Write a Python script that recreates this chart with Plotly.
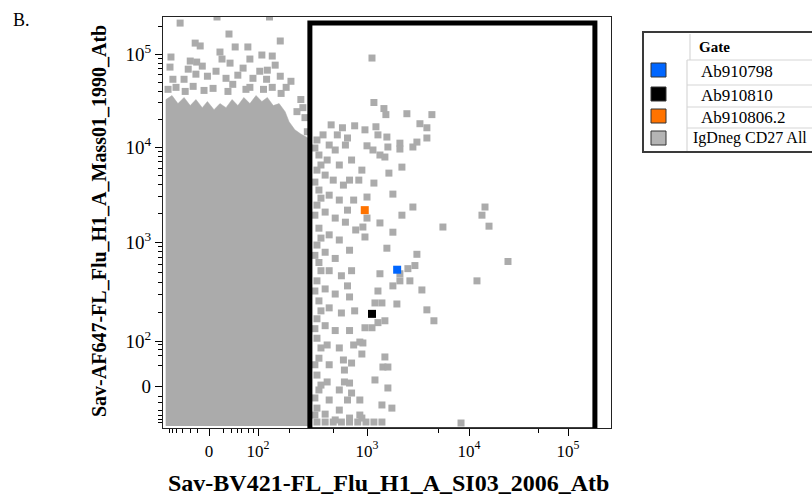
import numpy as np
import plotly.graph_objects as go

# ---------------- axis scale (biexponential-like) anchors ----------------
X_ANCHOR_V = [-1000, -150, 0, 100, 1000, 1e4, 1e5, 1e6]
X_ANCHOR_D = [-30.6, 0, 46, 95, 204, 306, 405, 504]
Y_ANCHOR_V = [-1000, -150, 0, 100, 1000, 1e4, 1e5, 1e6]
Y_ANCHOR_D = [-27.9, 0, 42, 87, 186, 281, 374, 467]

# ---------------- tick labels ----------------
major_vals = [0, 100, 1000, 10000, 100000]
major_text = ["0", "10<sup>2</sup>", "10<sup>3</sup>", "10<sup>4</sup>", "10<sup>5</sup>"]
x_minor_vals = [-100, -80, -60, -40, -20, -10, 10, 20, 30, 40, 60, 80, 200, 500, 5000, 50000]
y_minor_vals = ([-100, -80, -60, -40, -20, -10, 20, 40, 60, 80]
                + [m * 100 for m in range(2, 10)]
                + [m * 1000 for m in range(2, 10)]
                + [m * 10000 for m in range(2, 10)] + [200000])

# ---------------- data ----------------
# dense core of "IgDneg CD27 All" (outline of the solid density region)
core_x = [-124, -124, -83, -55, -35, -21, -12, -5, -1, 2.8, 7.1, 13, 21, 31, 45, 64, 90,
          109, 123, 140, 159, 181, 197, 223, 253, 294, 294]
core_y = [-130, 32400, 35800, 29300, 34100, 27900, 32400, 26500, 30800, 25200, 29300, 26500,
          32400, 27900, 34100, 29300, 35800, 30800, 34100, 27900, 29300, 24000, 18700, 15300,
          13800, 12500, -130]

# sparse events of "IgDneg CD27 All" above the core
fringe_x = [-63, -16, 2.2, 22, 64, 137, 185,
            -78, -1, 13, 76, 121, 163,
            -108, -32, -3.5, 15.3, 51, 113, 166, 233,
            -35, -12, 4.1, 31, 104, 146, 205, -95, -25, 18, 64, 109, 57,
            -47, 4.8, 129, 16.6, 163, -13, -7, -89, 7.1, 8.9, 26, 137, -21, -11, -5, 43, 123, 253,
            276, 264, 290]
fringe_y = [43800, 44900, 42700, 47200, 43800, 43800, 43800,
            53500, 57700, 54800, 54800, 53500, 57700,
            41700, 39600, 40600, 39600, 41700, 41700, 37700, 24000,
            53500, 60700, 65300, 59200, 65300, 75900, 50900, 72300, 68700, 79800, 88300, 97500, 119000,
            215000, 250000, 250000, 164000, 138000, 131000, 122000, 92800, 105000, 88300, 119000, 95100,
            84000, 81900, 74100, 70500, 67000, 32400,
            20700, 26500, 14600]

# "IgDneg CD27 All" events inside the gate
gate_x = [1120, 1170, 1468, 1535, 2467, 4335, 3311, 3873, 3873, 3093, 2825, 2107, 2107, 2205, 1643,
          1798, 1170, 845, 900, 669, 603, 776, 959, 1225, 1282, 1570, 1606, 1000, 1145, 1341, 1501,
          1000, 2825, 14510, 13520, 15930, 5559, 24770, 12040, 3461, 3873, 4538, 8355, 3093, 2957,
          2523, 2107, 2640, 2107, 1798, 1341, 1570, 959, 919, 1341, 1798, 2205, 1000, 1282, 1968,
          1501, 1282, 1120, 959, 1403, 1198, 863, 919, 900, 1501, 1435, 1606, 728, 628, 1198, 628,
          698, 1606, 728, 863, 1403, 1758, 863,
          355, 421, 498, 590, 698, 827, 979, 1170, 1403, 698, 900,
          355, 403, 458, 519, 370, 439, 565, 355, 421, 498, 615, 370, 458, 565, 355, 421, 519, 641,
          370, 458, 565, 355, 421, 519, 698, 370, 458, 590, 355, 421, 519, 698, 370, 458, 590, 355,
          421, 519, 355, 439, 565, 370, 458, 355, 439, 370, 458, 355, 421, 565,
          340, 386, 340, 386, 340, 386, 340, 386, 340, 386, 340, 386, 340, 386, 340, 340,
          477, 542, 641, 728, 698, 760, 669, 793, 728, 669, 776, 698, 760, 615, 565, 669, 519]
gate_y = [90500, 30100, 25900, 22300, 22800, 22300, 17800, 16100, 12500, 11300, 10000, 11000, 9520,
          6150, 5320, 3200, 4180, 4490, 5720, 12500, 16100, 16900, 15300, 16500, 13500, 12800, 10000,
          10300, 9300, 8240, 7850, 2980, 2340, 2340, 1920, 1470, 1440, 643, 413, 335, 211, 163, -105,
          757, 586, 546, 486, 413, 413, 368, 486, 869, 1130, 1440, 1590, 1270, 1920, 1790, 327, 242,
          163, 156, 138, 138, 248, 248, 94, 89, 45, 37, 17.5, 17.5, 24, 13.4, 3.8, 2.4, 1.7, -1.4,
          -5.9, -15.2, -25, -33, -58,
          -98, -98, -98, -98, -98, -98, -98, -98, -98, -73, -73,
          11900, 13500, 10500, 9300, 8240, 7300, 6470, 5720, 5070, 4490, 3980, 3530, 3120, 2770, 2450,
          2070, 1790, 1620, 1400, 1190, 1050, 933, 793, 689, 830, 628, 521, 464, 413, 343, 305, 285,
          260, 221, 196, 171, 145, 129, 107, 79, 66, 34, 21, 7.9, 2.4, -3.0, -15.2, -33, -54, -39,
          9760, 6470, 4280, 2900, 1920, 1100, 739, 521, 327, 206, 135, 66, 21, 0.5, -12, -58,
          17300, 13500, 10500, 7300, 4490, 2770, 2170, 1340, 521, 368, 206, 129, 79, 30, -3.0, -15.2, -84]

# gated antibodies
ab_names = ["Ab910798", "Ab910810", "Ab910806.2"]
ab_x = [1980, 1120, 955]
ab_y = [533, 192, 2170]
ab_colors = ["#0066FF", "#000000", "#FF7300"]

# gate rectangle (data units)
gate_rect_x = [306, 187000]
gate_rect_y = [-170, 215000]

legend_title = "Gate"
legend_pop = "IgDneg CD27 All"
GRAY = "#ABABAB"
SERIF = "Liberation Serif"


def _u(v):
    v = np.asarray(v, dtype=float)
    return np.sign(v) * np.log10(1 + np.abs(v) / 10.0)


def bx(v):
    return np.interp(_u(v), _u(X_ANCHOR_V), X_ANCHOR_D)


def by(v):
    return np.interp(_u(v), _u(Y_ANCHOR_V), Y_ANCHOR_D)


W, H = 812, 497
ML, MR, MT, MB = 163, 201, 17, 69
PW, PH = W - ML - MR, H - MT - MB


def px(x):
    return (x - ML) / PW


def py(y):
    return (H - MB - y) / PH


fig = go.Figure()

fig.add_trace(go.Scatter(x=bx(core_x), y=by(core_y), mode="lines", fill="toself",
                         fillcolor=GRAY, line=dict(color=GRAY, width=0.5),
                         hoverinfo="skip", showlegend=False))
fig.add_trace(go.Scatter(x=bx(fringe_x + gate_x), y=by(fringe_y + gate_y), mode="markers",
                         marker=dict(symbol="square", size=7, color=GRAY, line=dict(width=0)),
                         showlegend=False))
for name, xv, yv, c in zip(ab_names, ab_x, ab_y, ab_colors):
    fig.add_trace(go.Scatter(x=bx([xv]), y=by([yv]), mode="markers", name=name,
                             marker=dict(symbol="square", size=8, color=c, line=dict(width=0)),
                             showlegend=False))

# gate
fig.add_shape(type="rect", xref="x", yref="y",
              x0=float(bx(gate_rect_x[0])), x1=float(bx(gate_rect_x[1])),
              y0=float(by(gate_rect_y[0])), y1=float(by(gate_rect_y[1])),
              line=dict(color="black", width=5), fillcolor="rgba(0,0,0,0)", layer="above")

axis_common = dict(showgrid=False, zeroline=False, showline=True, linecolor="#222",
                   linewidth=1.2, mirror=True, ticks="outside", ticklen=7, tickwidth=1,
                   tickcolor="black", tickmode="array")

fig.update_xaxes(range=[0, PW], tickvals=bx(major_vals), ticktext=major_text,
                 tickfont=dict(family=SERIF, size=17, color="black"),
                 minor=dict(tickmode="array", tickvals=bx(x_minor_vals), ticks="outside",
                            ticklen=4, tickwidth=1, tickcolor="black"),
                 **axis_common)
fig.update_yaxes(range=[0, PH], tickvals=by(major_vals), ticktext=major_text,
                 tickfont=dict(family=SERIF, size=19, color="black"),
                 minor=dict(tickmode="array", tickvals=by(y_minor_vals), ticks="outside",
                            ticklen=4, tickwidth=1, tickcolor="black"),
                 **axis_common)

ann = []
ann.append(dict(text="<b>Sav-BV421-FL_Flu_H1_A_SI03_2006_Atb</b>", xref="paper", yref="paper",
                x=px(388), y=py(483), showarrow=False, xanchor="center", yanchor="middle",
                font=dict(family=SERIF, size=24, color="black")))
ann.append(dict(text="<b>Sav-AF647-FL_Flu_H1_A_Mass01_1990_Atb</b>", xref="paper", yref="paper",
                x=px(99), y=py(221), showarrow=False, xanchor="center", yanchor="middle",
                textangle=-90, font=dict(family=SERIF, size=20, color="black")))
ann.append(dict(text="B.", xref="paper", yref="paper", x=px(11), y=py(20), showarrow=False,
                xanchor="left", yanchor="middle", font=dict(family=SERIF, size=18, color="black")))

# legend table
shapes = []
shapes.append(dict(type="rect", xref="paper", yref="paper", x0=px(643), x1=px(818),
                   y0=py(152), y1=py(32), line=dict(color="#3a3a3a", width=2), fillcolor="white"))
shapes.append(dict(type="line", xref="paper", yref="paper", x0=px(690), x1=px(690),
                   y0=py(34), y1=py(60), line=dict(color="#cfcfcf", width=1)))
shapes.append(dict(type="line", xref="paper", yref="paper", x0=px(687), x1=px(687),
                   y0=py(60), y1=py(151), line=dict(color="#cfcfcf", width=1)))
for ry in [60, 85, 107, 128]:
    shapes.append(dict(type="line", xref="paper", yref="paper", x0=px(687), x1=px(812),
                       y0=py(ry), y1=py(ry), line=dict(color="#d5d5d5", width=1)))
sw_rows = [(63, 77), (87, 101), (109, 123), (131, 145)]
sw_cols = ab_colors + ["#B4B4B4"]
for (t, b), c in zip(sw_rows, sw_cols):
    shapes.append(dict(type="rect", xref="paper", yref="paper", x0=px(651), x1=px(666),
                       y0=py(b), y1=py(t), line=dict(color="#333", width=1), fillcolor=c))

ann.append(dict(text="<b>" + legend_title + "</b>", xref="paper", yref="paper", x=px(697), y=py(47),
                showarrow=False, xanchor="left", yanchor="middle",
                font=dict(family=SERIF, size=15, color="black")))
for name, cy in zip(ab_names, [72, 95, 117]):
    ann.append(dict(text=name, xref="paper", yref="paper", x=px(699), y=py(cy), showarrow=False,
                    xanchor="left", yanchor="middle", font=dict(family=SERIF, size=17, color="black")))
ann.append(dict(text=legend_pop, xref="paper", yref="paper", x=px(691), y=py(138), showarrow=False,
                xanchor="left", yanchor="middle", font=dict(family=SERIF, size=16, color="black")))

fig.update_layout(width=W, height=H, margin=dict(l=ML, r=MR, t=MT, b=MB),
                  paper_bgcolor="white", plot_bgcolor="white", showlegend=False,
                  annotations=ann, shapes=fig.layout.shapes + tuple(shapes))

fig.write_html("out.html")
